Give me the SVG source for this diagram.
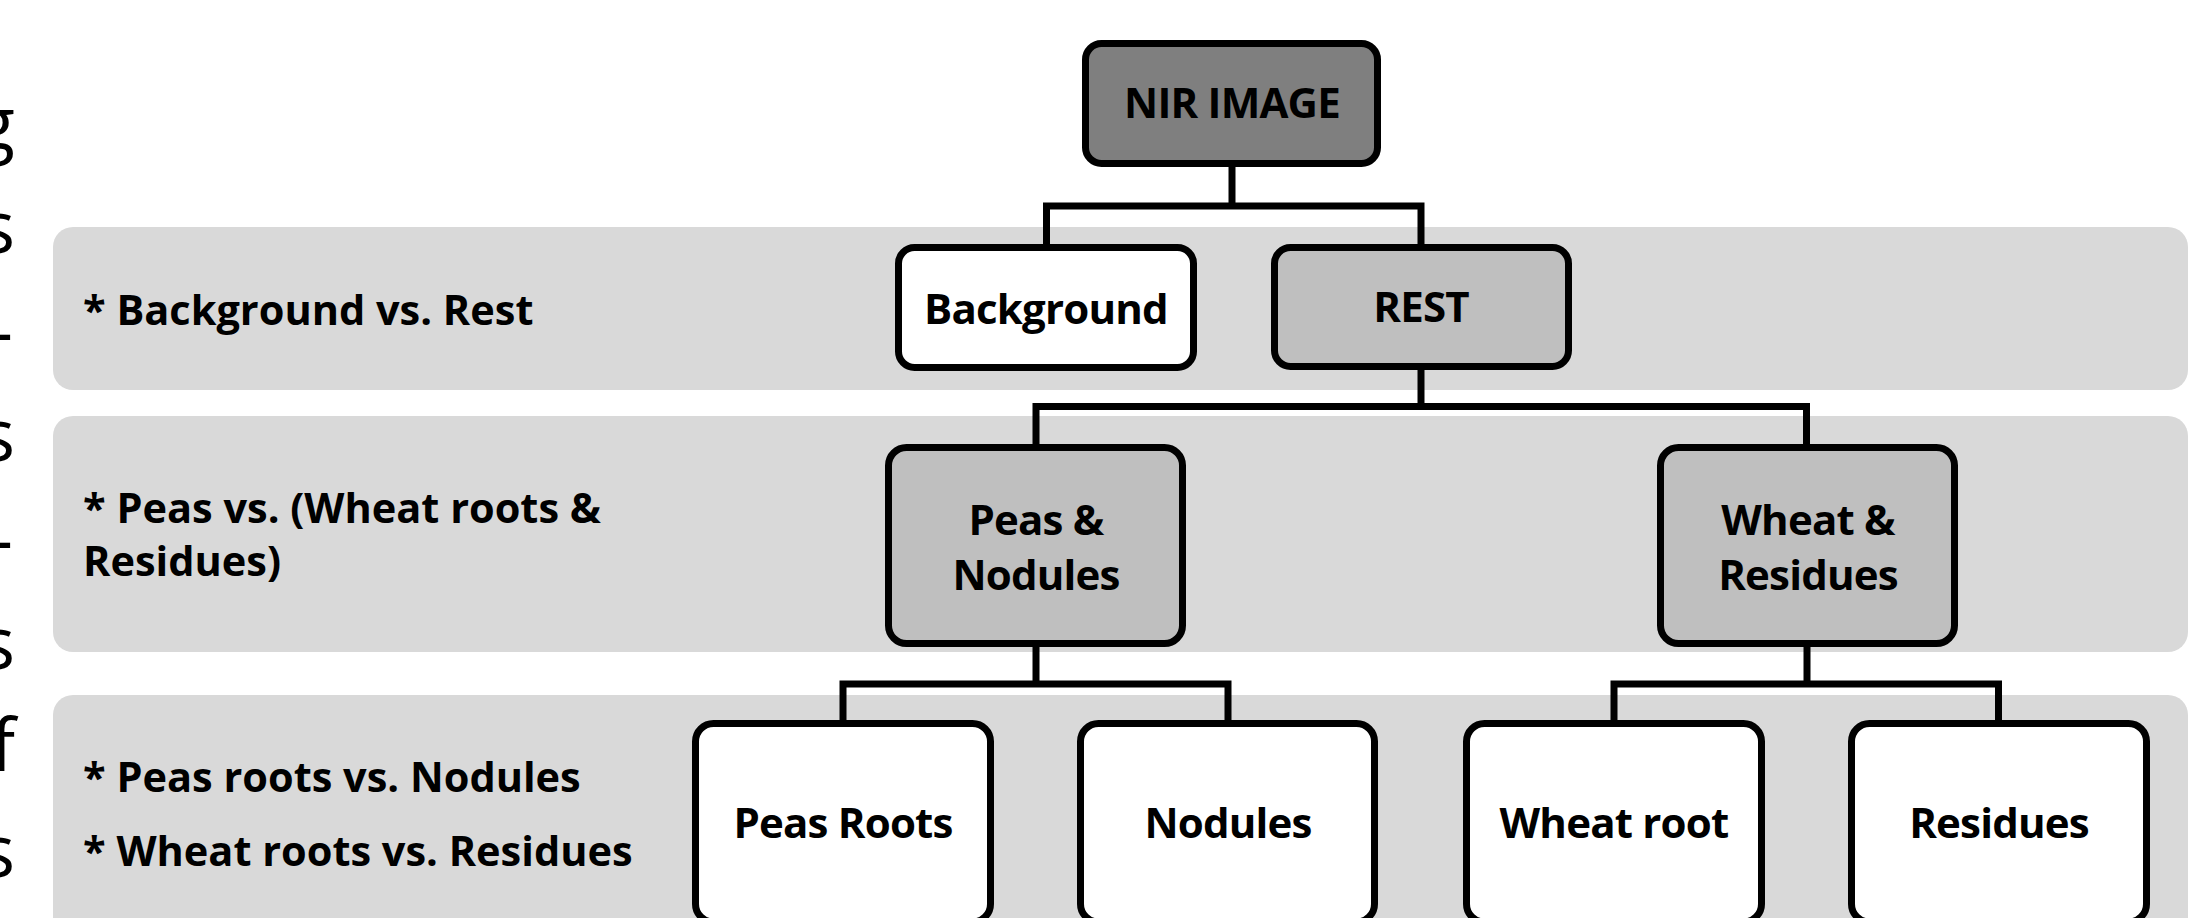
<svg xmlns="http://www.w3.org/2000/svg" width="2211" height="918" viewBox="0 0 2211 918">
<style>
.band{fill:#d9d9d9}
.node{stroke:#000;stroke-width:7}
.dark{fill:#7f7f7f}
.mid{fill:#bfbfbf}
.white{fill:#fff}
.lbl{font-family:"Open Sans","Liberation Sans",sans-serif;font-weight:bold;font-size:42px;fill:#000;text-anchor:middle;letter-spacing:-0.8px}
.side{font-family:"Open Sans","Liberation Sans",sans-serif;font-weight:bold;font-size:41.5px;fill:#000}
.edge{font-family:"Open Sans","Liberation Sans",sans-serif;font-size:73px;fill:#000;text-anchor:end}
.conn{fill:none;stroke:#000;stroke-width:7;stroke-linejoin:miter}
</style>
<rect width="2211" height="918" fill="#fff"/>
<g id="edge-text">
<text class="edge" x="15" y="149">g</text>
<text class="edge" x="15" y="253">s</text>
<text class="edge" x="13" y="357">-</text>
<text class="edge" x="15" y="461">s</text>
<text class="edge" x="13" y="565">-</text>
<text class="edge" x="15" y="669">s</text>
<text class="edge" x="15" y="771">f</text>
<text class="edge" x="15" y="877">s</text>
</g>
<g id="bands">
<rect class="band" x="53" y="227" width="2135" height="163" rx="20"/>
<rect class="band" x="53" y="416" width="2135" height="236" rx="20"/>
<rect class="band" x="53" y="695" width="2135" height="260" rx="20"/>
</g>
<g id="level-labels">
<text class="side" x="83" y="325">* Background vs. Rest</text>
<text class="side" x="83" y="523">* Peas vs. (Wheat roots &amp;</text>
<text class="side" x="83" y="576">Residues)</text>
<text class="side" x="83" y="792">* Peas roots vs. Nodules</text>
<text class="side" x="83" y="866">* Wheat roots vs. Residues</text>
</g>
<g id="connectors">
<path class="conn" d="M1232,167 V206"/>
<path class="conn" d="M1046.5,248 V206 H1421 V247"/>
<path class="conn" d="M1421,370 V406.5"/>
<path class="conn" d="M1036,447 V406.5 H1806.5 V447"/>
<path class="conn" d="M1036,647 V684"/>
<path class="conn" d="M843,723 V684 H1228 V723"/>
<path class="conn" d="M1807,647 V684"/>
<path class="conn" d="M1614,723 V684 H1998.5 V723"/>
</g>
<g id="node-nir">
<rect class="node dark" x="1085.5" y="43.5" width="292" height="120" rx="16"/>
<text class="lbl" x="1232" y="118">NIR IMAGE</text>
</g>
<g id="node-background">
<rect class="node white" x="898.5" y="247.5" width="295" height="120" rx="16"/>
<text class="lbl" x="1046" y="324">Background</text>
</g>
<g id="node-rest">
<rect class="node mid" x="1274.5" y="247.5" width="294" height="119" rx="16"/>
<text class="lbl" x="1421" y="322">REST</text>
</g>
<g id="node-peas-nodules">
<rect class="node mid" x="888.5" y="447.5" width="294" height="196" rx="18"/>
<text class="lbl" x="1036" y="535">Peas &amp;</text>
<text class="lbl" x="1036" y="590">Nodules</text>
</g>
<g id="node-wheat-residues">
<rect class="node mid" x="1660.5" y="447.5" width="294" height="196" rx="18"/>
<text class="lbl" x="1808" y="535">Wheat &amp;</text>
<text class="lbl" x="1808" y="590">Residues</text>
</g>
<g id="node-peas-roots">
<rect class="node white" x="695.5" y="723.5" width="295" height="198.5" rx="18"/>
<text class="lbl" x="843" y="838">Peas Roots</text>
</g>
<g id="node-nodules">
<rect class="node white" x="1080.5" y="723.5" width="294" height="198.5" rx="18"/>
<text class="lbl" x="1228" y="838">Nodules</text>
</g>
<g id="node-wheat-root">
<rect class="node white" x="1466.5" y="723.5" width="295" height="198.5" rx="18"/>
<text class="lbl" x="1614" y="838">Wheat root</text>
</g>
<g id="node-residues">
<rect class="node white" x="1851.5" y="723.5" width="295" height="198.5" rx="18"/>
<text class="lbl" x="1999" y="838">Residues</text>
</g>
</svg>
